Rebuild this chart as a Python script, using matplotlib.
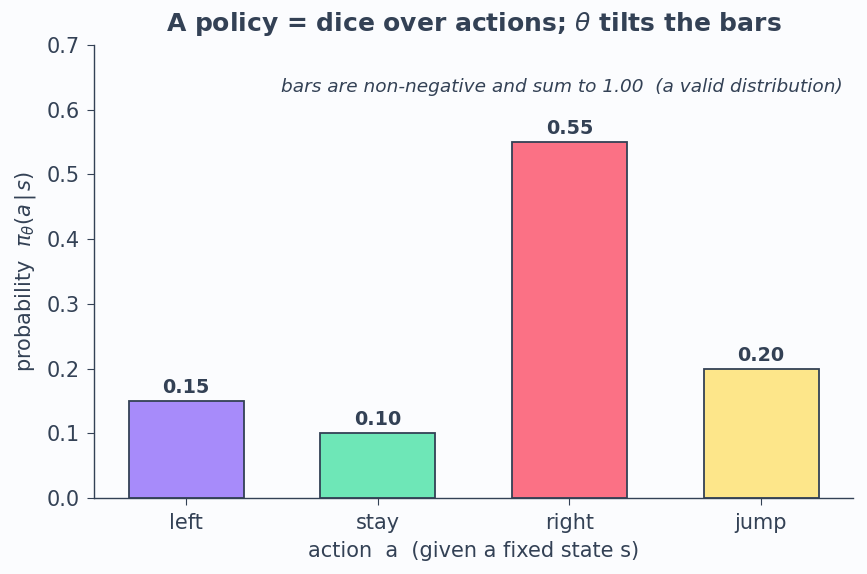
import matplotlib
matplotlib.use("Agg")
import matplotlib.pyplot as plt

actions = ["left", "stay", "right", "jump"]
probs = [0.15, 0.10, 0.55, 0.20]
colors = ["#a78bfa", "#6ee7b7", "#fb7185", "#fde68a"]
yticks = [0.0, 0.1, 0.2, 0.3, 0.4, 0.5, 0.6, 0.7]

txt = "#334155"
bg = "#fbfcfe"

fig = plt.figure(figsize=(8.67, 5.74), dpi=100, facecolor=bg)
ax = fig.add_axes([94/867, 1-498/574, (853-94)/867, (498-45)/574])
ax.set_facecolor(bg)

x = list(range(len(actions)))
bars = ax.bar(x, probs, width=0.6, color=colors, edgecolor=txt, linewidth=1.3, zorder=2)
for xi, p in zip(x, probs):
    ax.text(xi, p + 0.006, f"{p:.2f}", ha="center", va="bottom", fontsize=13.8,
            fontweight="bold", color=txt)

ax.set_xlim(-0.48, 3.48)
ax.set_ylim(0, 0.7)
ax.set_yticks(yticks)
ax.set_yticklabels([f"{v:.1f}" for v in yticks])
ax.set_xticks(x)
ax.set_xticklabels(actions)
ax.tick_params(colors=txt, labelsize=15, length=5, pad=5.5)
for s in ["top", "right"]:
    ax.spines[s].set_visible(False)
for s in ["left", "bottom"]:
    ax.spines[s].set_color(txt)
    ax.spines[s].set_linewidth(1.0)

ax.set_xlabel("action  a  (given a fixed state s)", fontsize=15, color=txt, labelpad=6)
ax.set_ylabel(r"probability  $\pi_\theta(a\,|\,s)$", fontsize=15, color=txt, labelpad=6)
ax.set_title(r"A policy = dice over actions; $\theta$ tilts the bars", fontsize=18,
             fontweight="bold", color=txt, pad=10)
ax.text(0.987, 0.907, "bars are non-negative and sum to 1.00  (a valid distribution)",
        transform=ax.transAxes, ha="right", va="center", fontsize=13.3,
        style="italic", color=txt)

fig.savefig("out.png", dpi=100, facecolor=bg)
